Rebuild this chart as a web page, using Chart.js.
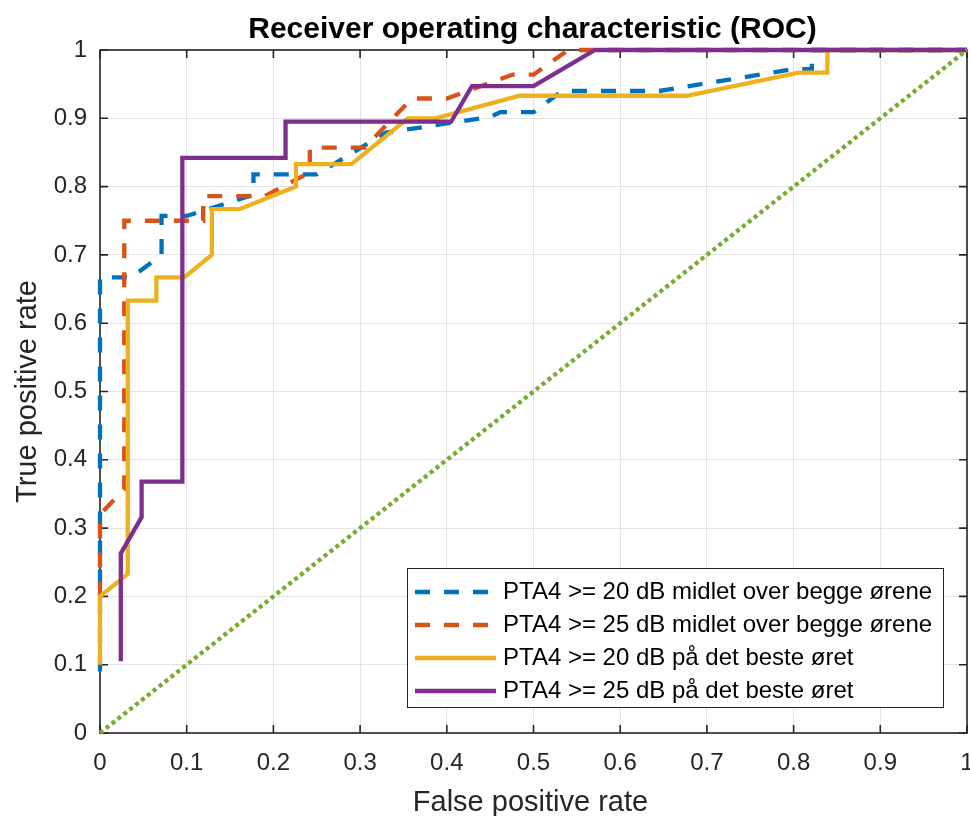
<!DOCTYPE html>
<html>
<head>
<meta charset="utf-8">
<script src="https://cdn.jsdelivr.net/npm/chart.js@4.4.1/dist/chart.umd.min.js"></script>
<style>
  html, body { margin: 0; padding: 0; background: #fff; }
  #wrap { width: 970px; height: 816px; }
</style>
</head>
<body>
<div id="wrap"><canvas id="roc" width="970" height="816"></canvas></div>
<script>
// ROC curves
const fprAvg20 = [0, 0, 0.036, 0.071, 0.071, 0.1, 0.177, 0.177, 0.25, 0.33, 0.45, 0.462, 0.5, 0.533, 0.645, 0.8, 0.821, 0.821, 1];
const tprAvg20 = [0.09, 0.667, 0.667, 0.7, 0.757, 0.757, 0.788, 0.818, 0.818, 0.879, 0.902, 0.909, 0.909, 0.94, 0.94, 0.972, 0.972, 1, 1];

const fprAvg25 = [0, 0, 0.028, 0.028, 0.119, 0.119, 0.19, 0.242, 0.242, 0.305, 0.36, 0.4, 0.476, 0.5, 0.54, 1];
const tprAvg25 = [0.2, 0.32, 0.357, 0.75, 0.75, 0.786, 0.786, 0.821, 0.857, 0.857, 0.929, 0.929, 0.964, 0.964, 1, 1];

const fprBest20 = [0, 0, 0.032, 0.032, 0.065, 0.065, 0.097, 0.129, 0.129, 0.161, 0.226, 0.226, 0.29, 0.355, 0.387, 0.484, 0.677, 0.806, 0.839, 0.839, 1];
const tprBest20 = [0.1, 0.2, 0.233, 0.633, 0.633, 0.667, 0.667, 0.7, 0.767, 0.767, 0.8, 0.833, 0.833, 0.9, 0.9, 0.933, 0.933, 0.967, 0.967, 1, 1];

const fprBest25 = [0.024, 0.024, 0.048, 0.048, 0.095, 0.095, 0.214, 0.214, 0.405, 0.429, 0.5, 0.571, 1];
const tprBest25 = [0.105, 0.263, 0.316, 0.368, 0.368, 0.842, 0.842, 0.895, 0.895, 0.947, 0.947, 1, 1];

const chanceX = [0, 1];
const chanceY = [0, 1];

const seriesLabels = [
  "PTA4 >= 20 dB midlet over begge ørene",
  "PTA4 >= 25 dB midlet over begge ørene",
  "PTA4 >= 20 dB på det beste øret",
  "PTA4 >= 25 dB på det beste øret"
];

const titleText = "Receiver operating characteristic (ROC)";
const xTitle = "False positive rate";
const yTitle = "True positive rate";

const FONT = '"Liberation Sans", Arial, Helvetica, sans-serif';
const AXIS = "#262626";

function pts(xs, ys) {
  return xs.map((v, i) => ({ x: v, y: ys[i] }));
}

function line(label, xs, ys, color, dash, order) {
  return {
    label,
    data: pts(xs, ys),
    borderColor: color,
    backgroundColor: color,
    borderWidth: 4.3,
    borderDash: dash,
    borderCapStyle: "butt",
    borderJoinStyle: "miter",
    pointRadius: 0,
    tension: 0,
    showLine: true,
    fill: false,
    clip: false,
    order
  };
}

const datasets = [
  line(seriesLabels[0], fprAvg20, tprAvg20, "#0072BD", [15, 14], 5),
  line(seriesLabels[1], fprAvg25, tprAvg25, "#D95319", [15, 14], 4),
  line(seriesLabels[2], fprBest20, tprBest20, "#EDB120", [], 3),
  line(seriesLabels[3], fprBest25, tprBest25, "#7E2F8E", [], 2),
  line("chance", chanceX, chanceY, "#77AC30", [4, 3.5], 1)
];

// box, inward ticks, titles and the legend drawn MATLAB style
const matlabAxes = {
  id: "matlabAxes",
  beforeDatasetsDraw(chart) {
    const { ctx, chartArea: a, scales: { x, y } } = chart;
    ctx.save();
    ctx.strokeStyle = AXIS;
    ctx.lineWidth = 1.6;
    ctx.strokeRect(a.left, a.top, a.right - a.left, a.bottom - a.top);
    ctx.beginPath();
    x.ticks.forEach(t => {
      const px = x.getPixelForValue(t.value);
      ctx.moveTo(px, a.bottom); ctx.lineTo(px, a.bottom - 8);
      ctx.moveTo(px, a.top); ctx.lineTo(px, a.top + 8);
    });
    y.ticks.forEach(t => {
      const py = y.getPixelForValue(t.value);
      ctx.moveTo(a.left, py); ctx.lineTo(a.left + 8, py);
      ctx.moveTo(a.right, py); ctx.lineTo(a.right - 8, py);
    });
    ctx.stroke();
    ctx.restore();
  },
  afterDraw(chart) {
    const { ctx, chartArea: a } = chart;
    const cx = (a.left + a.right) / 2;
    const cy = (a.top + a.bottom) / 2;
    ctx.save();

    ctx.fillStyle = "#000";
    ctx.font = "bold 30px " + FONT;
    ctx.textAlign = "center";
    ctx.textBaseline = "alphabetic";
    ctx.fillText(titleText, cx - 1, 38);

    ctx.fillStyle = AXIS;
    ctx.font = "29px " + FONT;
    ctx.fillText(xTitle, cx - 3, 811);

    ctx.save();
    ctx.translate(36, cy);
    ctx.rotate(-Math.PI / 2);
    ctx.fillText(yTitle, 0, 0);
    ctx.restore();

    // legend
    const box = { left: 407, top: 568, right: 944, bottom: 708 };
    ctx.fillStyle = "#fff";
    ctx.fillRect(box.left, box.top, box.right - box.left, box.bottom - box.top);
    ctx.strokeStyle = AXIS;
    ctx.lineWidth = 1;
    ctx.strokeRect(box.left + 0.5, box.top + 0.5, box.right - box.left - 1, box.bottom - box.top - 1);

    ctx.font = "24px " + FONT;
    ctx.textAlign = "left";
    ctx.textBaseline = "middle";
    for (let i = 0; i < 4; i++) {
      const ds = chart.data.datasets[i];
      const ry = 592 + i * 33;
      ctx.strokeStyle = ds.borderColor;
      ctx.lineWidth = ds.borderWidth;
      ctx.lineCap = "butt";
      ctx.setLineDash(ds.borderDash || []);
      ctx.beginPath();
      ctx.moveTo(415, ry);
      ctx.lineTo(496, ry);
      ctx.stroke();
      ctx.setLineDash([]);
      ctx.fillStyle = "#000";
      ctx.fillText(ds.label, 503, ry);
    }
    ctx.restore();
  }
};

function tickLabel(v) {
  const s = Number(v).toFixed(1);
  return s.endsWith(".0") ? s.slice(0, -2) : s;
}

new Chart(document.getElementById("roc"), {
  type: "scatter",
  data: { datasets },
  options: {
    responsive: false,
    animation: false,
    devicePixelRatio: 1,
    layout: { padding: { top: 50, right: 3, left: 0, bottom: 0 } },
    plugins: {
      legend: { display: false },
      title: { display: false },
      tooltip: { enabled: false }
    },
    scales: {
      x: {
        type: "linear",
        min: 0,
        max: 1,
        ticks: {
          stepSize: 0.1,
          padding: 16,
          color: AXIS,
          font: { family: FONT, size: 24 },
          maxRotation: 0,
          autoSkip: false,
          callback: tickLabel
        },
        grid: { color: "#e3e3e3", lineWidth: 1, drawTicks: false },
        border: { display: false },
        afterFit(s) { s.height = 83; s.paddingLeft = 0; s.paddingRight = 0; }
      },
      y: {
        type: "linear",
        min: 0,
        max: 1,
        ticks: {
          stepSize: 0.1,
          padding: 13,
          color: AXIS,
          font: { family: FONT, size: 24 },
          autoSkip: false,
          callback: tickLabel
        },
        grid: { color: "#e3e3e3", lineWidth: 1, drawTicks: false },
        border: { display: false },
        afterFit(s) { s.width = 100; s.paddingTop = 0; s.paddingBottom = 0; }
      }
    }
  },
  plugins: [matlabAxes]
});
</script>
</body>
</html>
